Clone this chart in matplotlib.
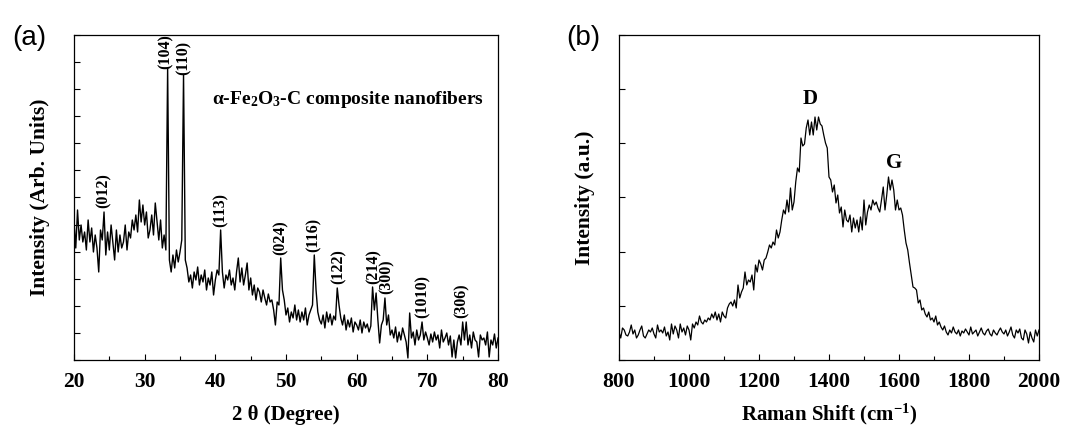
import numpy as np
import matplotlib
matplotlib.use('Agg')
import matplotlib.pyplot as plt
from matplotlib.ticker import MultipleLocator

plt.rcParams['font.family'] = 'Liberation Serif'
plt.rcParams['font.weight'] = 'bold'
plt.rcParams['mathtext.fontset'] = 'custom'
plt.rcParams['mathtext.rm'] = 'Liberation Serif:bold'
plt.rcParams['mathtext.it'] = 'Liberation Serif:bold'
plt.rcParams['mathtext.bf'] = 'Liberation Serif:bold'

# --- (a) XRD pattern, 20-80 deg in 0.25 deg steps ---
two_theta = np.arange(20.0, 80.001, 0.25)
xrd = [
    140, 112, 150, 120,  135, 118, 128, 110,  140, 118, 132, 108,  125, 112, 88, 130,
    120, 148, 105, 128,  110, 135, 118, 100,  130, 108, 125, 112,  118, 135, 110, 128,
    122, 140, 130, 145,  128, 160, 138, 155,  135, 148, 122, 130,  145, 125, 157, 138,
    120, 140, 112, 125,  110, 292, 100, 88,   105, 92, 110, 98,    108, 120, 285, 100,
    92, 78, 85, 72,      88, 80, 93, 75,      85, 78, 90, 70,      82, 75, 88, 65,
    80, 90, 85, 130,     88, 72, 85, 80,      90, 75, 82, 70,      88, 102, 78, 92,
    75, 85, 97, 70,      82, 65, 75, 60,      72, 68, 58, 70,      62, 55, 66, 58,
    60, 50, 35, 58,      55, 102, 70, 60,     45, 52, 38, 48,      42, 55, 40, 50,
    38, 48, 40, 52,      35, 45, 50, 55,      105, 70, 48, 40,     36, 45, 32, 48,
    38, 46, 35, 44,      40, 72, 55, 42,      35, 45, 30, 40,      33, 42, 28, 38,
    35, 30, 40, 27,      38, 32, 36, 28,      34, 73, 50, 67,      40, 17, 35, 40,
    62, 35, 45, 25,      30, 22, 33, 18,      28, 20, 32, 25,      18, 2, 47, 22,
    28, 15, 30, 20,      25, 38, 20, 28,      22, 15, 26, 18,      28, 20, 25, 12,
    30, 18, 22, 27,      15, 24, 3, 20,       2, 18, 25, 15,       38, 20, 38, 15,
    25, 12, 28, 20,      18, 3, 25, 20,       22, 15, 28, 3,       20, 15, 26, 12,
    22,
]

peak_pos = [24.2, 33.0, 35.45, 40.8, 49.2, 53.9, 57.4, 62.35, 64.3, 69.3, 74.8]
peak_lbl = ['(012)', '(104)', '(110)', '(113)', '(024)', '(116)', '(122)',
            '(214)', '(300)', '(1010)', '(306)']
peak_top = [150, 289, 283, 131, 103, 106, 74, 74, 64, 40, 40]

# --- (b) Raman spectrum, 800-2000 cm-1 in 5 cm-1 steps ---
shift = np.arange(800, 2001, 5)
raman = [
    28, 22, 32, 30, 25, 24, 28, 35, 26, 30, 22, 25, 30, 34, 24, 22, 26, 30, 28, 32,
    26, 22, 35, 28, 30, 27, 33, 24, 28, 20, 36, 26, 34, 30, 22, 36, 28, 32, 25, 34,
    30, 20, 36, 32, 38, 35, 44, 38, 36, 40, 38, 42, 40, 46, 42, 48, 40, 46, 38, 48,
    44, 42, 52, 56, 58, 54, 60, 52, 75, 62, 68, 72, 88, 75, 80, 78, 85, 70, 95, 88,
    100, 96, 90, 100, 102, 108, 115, 112, 118, 115, 130, 122, 128, 140, 150, 146, 160, 148, 172, 150,
    158, 178, 192, 188, 222, 214, 216, 232, 240, 225, 238, 225, 243, 230, 243, 236, 234, 225, 217, 212,
    183, 180, 168, 175, 157, 165, 147, 153, 133, 150, 140, 138, 145, 128, 142, 132, 140, 128, 143, 130,
    160, 135, 148, 155, 150, 160, 155, 158, 152, 148, 160, 173, 150, 165, 183, 170, 180, 170, 150, 160,
    150, 152, 145, 130, 117, 110, 97, 85, 73, 72, 70, 57, 60, 50, 52, 46, 43, 48, 40, 42,
    38, 44, 35, 38, 33, 30, 34, 28, 25, 30, 27, 33, 28, 26, 30, 24, 29, 27, 31, 28,
    25, 33, 26, 28, 30, 24, 28, 32, 27, 25, 29, 31, 26, 24, 30, 27, 25, 29, 32, 28,
    26, 30, 24, 28, 33, 25, 22, 30, 27, 31, 22, 20, 30, 26, 17, 28, 22, 18, 30, 24,
    30,
]

band_pos = [1345, 1585]
band_lbl = ['D', 'G']
band_y = [261, 197]

fig = plt.figure(figsize=(10.85, 4.32), dpi=100)
ax1 = fig.add_axes([0.0682, 0.1667, 0.3908, 0.7523])
ax2 = fig.add_axes([0.5705, 0.1667, 0.3871, 0.7523])

# --- panel (a) ---
ax1.plot(two_theta, xrd, color='black', lw=1.0)
for x, s, y in zip(peak_pos, peak_lbl, peak_top):
    ax1.text(x, y + 2, s, rotation=90, ha='center', va='bottom', fontsize=11.5, fontweight='bold')
ax1.text(39.5, 260, r'$\alpha$-Fe$_2$O$_3$-C composite nanofibers', fontsize=14,
         fontweight='bold', va='center', ha='left')
ax1.set_xlim(20, 80)
ax1.set_ylim(0, 325)
ax1.xaxis.set_major_locator(MultipleLocator(10))
ax1.xaxis.set_minor_locator(MultipleLocator(5))
ax1.yaxis.set_major_locator(MultipleLocator(325 / 12))
ax1.set_xlabel('2 θ (Degree)', fontsize=15, fontweight='bold', labelpad=9)
ax1.set_ylabel('Intensity (Arb. Units)', fontsize=15.5, fontweight='bold', labelpad=17)

# --- panel (b) ---
ax2.plot(shift, raman, color='black', lw=0.9)
for x, s, y in zip(band_pos, band_lbl, band_y):
    ax2.text(x, y, s, ha='center', va='center', fontsize=15, fontweight='bold')
ax2.set_xlim(800, 2000)
ax2.set_ylim(0, 325)
ax2.xaxis.set_major_locator(MultipleLocator(200))
ax2.xaxis.set_minor_locator(MultipleLocator(100))
ax2.yaxis.set_major_locator(MultipleLocator(325 / 6))
ax2.set_xlabel(r'Raman Shift (cm$^{-1}$)', fontsize=15, fontweight='bold', labelpad=7)
ax2.set_ylabel('Intensity (a.u.)', fontsize=15.5, fontweight='bold', labelpad=17)

for ax in (ax1, ax2):
    ax.tick_params(axis='both', which='major', direction='in', length=4, width=0.8,
                   labelsize=15.5, pad=9, top=False, right=False)
    ax.tick_params(axis='both', which='minor', direction='in', length=3, width=0.8,
                   top=False, right=False)
    ax.tick_params(axis='y', labelleft=False)
    for sp in ax.spines.values():
        sp.set_linewidth(0.9)

fig.text(0.011, 0.895, '(a)', fontsize=20, family='Liberation Sans', fontweight='normal')
fig.text(0.522, 0.895, '(b)', fontsize=20, family='Liberation Sans', fontweight='normal')

fig.savefig('out.png', dpi=100)
